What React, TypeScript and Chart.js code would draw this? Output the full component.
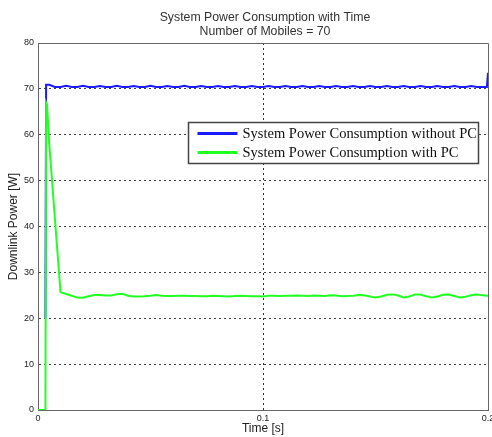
import React, { useEffect, useRef } from 'react';
import { Chart, registerables } from 'chart.js';

Chart.register(...registerables);

const titleLines = ['System Power Consumption with Time', 'Number of Mobiles = 70'];
const xAxisTitle = 'Time [s]';
const yAxisTitle = 'Downlink Power [W]';
const seriesLabels = ['System Power Consumption without PC', 'System Power Consumption with PC'];
const seriesColors = ['#1a1aff', '#22ff22'];
const xTickValues = [0, 0.1, 0.2];
const yTickValues = [0, 10, 20, 30, 40, 50, 60, 70, 80];

const timeValues = [
  0, 0.0033, 0.0036, 0.004,
  0.005, 0.0075, 0.01, 0.0125, 0.015, 0.0175, 0.02, 0.0225, 0.025, 0.0275,
  0.03, 0.0325, 0.035, 0.0375, 0.04, 0.0425, 0.045, 0.0475, 0.05, 0.0525,
  0.055, 0.0575, 0.06, 0.0625, 0.065, 0.0675, 0.07, 0.0725, 0.075, 0.0775,
  0.08, 0.0825, 0.085, 0.0875, 0.09, 0.0925, 0.095, 0.0975, 0.1, 0.1025,
  0.105, 0.1075, 0.11, 0.1125, 0.115, 0.1175, 0.12, 0.1225, 0.125, 0.1275,
  0.13, 0.1325, 0.135, 0.1375, 0.14, 0.1425, 0.145, 0.1475, 0.15, 0.1525,
  0.155, 0.1575, 0.16, 0.1625, 0.165, 0.1675, 0.17, 0.1725, 0.175, 0.1775,
  0.18, 0.1825, 0.185, 0.1875, 0.19, 0.1925, 0.195, 0.1975, 0.1995, 0.2,
];

const powerWithoutPC = [
  null, 20, 70.9, 70.9,
  70.9, 70.4, 70.4, 70.65, 70.4, 70.4, 70.65, 70.4, 70.4, 70.6,
  70.4, 70.4, 70.65, 70.4, 70.4, 70.6, 70.4, 70.4, 70.65, 70.4,
  70.4, 70.6, 70.4, 70.4, 70.65, 70.4, 70.4, 70.6, 70.4, 70.4,
  70.6, 70.4, 70.4, 70.6, 70.4, 70.4, 70.6, 70.4, 70.4, 70.6,
  70.4, 70.4, 70.6, 70.4, 70.4, 70.6, 70.4, 70.4, 70.6, 70.4,
  70.4, 70.6, 70.4, 70.4, 70.6, 70.4, 70.4, 70.6, 70.4, 70.4,
  70.6, 70.4, 70.4, 70.6, 70.4, 70.4, 70.6, 70.4, 70.4, 70.6,
  70.4, 70.4, 70.6, 70.4, 70.4, 70.6, 70.4, 70.4, 70.4, 73.5,
];

const powerWithPC = [
  0, 0, 67, 66.5,
  58.0, 41.8, 25.7, 25.3, 24.9, 24.5, 24.45, 24.8, 25.05, 25.05,
  24.95, 24.95, 25.25, 25.35, 24.9, 24.75, 24.75, 24.8, 24.9, 25.05,
  24.9, 24.85, 24.85, 24.9, 24.9, 24.85, 24.85, 24.8, 24.8, 24.9,
  24.85, 24.8, 24.75, 24.85, 24.9, 24.85, 24.8, 24.8, 24.75, 24.9,
  24.9, 24.85, 24.9, 24.9, 24.95, 24.9, 24.85, 24.95, 24.9, 24.85,
  25.0, 24.95, 24.8, 24.85, 24.9, 25.05, 25.0, 24.75, 24.55, 24.75,
  25.1, 25.2, 24.95, 24.55, 24.75, 25.15, 25.15, 24.8, 24.55, 24.75,
  25.1, 25.15, 24.85, 24.55, 24.7, 25.0, 25.15, 25.0, 24.9, 24.9,
];

const frameLegendPlugin = {
  id: 'frameLegendTitle',
  afterDraw(chart: any) {
    const { ctx, chartArea: a } = chart;
    ctx.save();
    // top and right frame
    ctx.strokeStyle = '#666';
    ctx.lineWidth = 1;
    ctx.setLineDash([]);
    ctx.beginPath();
    ctx.moveTo(Math.round(a.left), Math.round(a.top) + 0.5);
    ctx.lineTo(Math.round(a.right) + 0.5, Math.round(a.top) + 0.5);
    ctx.lineTo(Math.round(a.right) + 0.5, Math.round(a.bottom));
    ctx.stroke();

    // title
    ctx.fillStyle = '#333';
    ctx.font = '12.3px "Liberation Sans", Arial, sans-serif';
    ctx.textAlign = 'center';
    ctx.textBaseline = 'middle';
    const cx = (a.left + a.right) / 2 + 2;
    ctx.fillText(titleLines[0], cx, a.top - 25);
    ctx.fillText(titleLines[1], cx, a.top - 11);

    // legend box
    const bx = Math.round(a.left + 150) + 0.5;
    const by = Math.round(a.top + 79) + 0.5;
    const bw = 290;
    const bh = 41;
    ctx.fillStyle = '#ffffff';
    ctx.fillRect(bx, by, bw, bh);
    ctx.strokeStyle = '#444';
    ctx.lineWidth = 1.5;
    ctx.strokeRect(bx, by, bw, bh);
    ctx.font = '14.5px "Liberation Serif", "Times New Roman", serif';
    ctx.textAlign = 'left';
    ctx.textBaseline = 'middle';
    seriesLabels.forEach((label, i) => {
      const ly = by + 11 + i * 19;
      ctx.strokeStyle = seriesColors[i];
      ctx.lineWidth = 3;
      ctx.beginPath();
      ctx.moveTo(bx + 9, ly);
      ctx.lineTo(bx + 49, ly);
      ctx.stroke();
      ctx.fillStyle = '#111';
      ctx.fillText(label, bx + 54, ly + 0.5);
    });
    ctx.restore();
  },
};

export default function App() {
  const canvasRef = useRef<HTMLCanvasElement | null>(null);

  useEffect(() => {
    document.body.style.margin = '0';
    const canvas = canvasRef.current;
    if (!canvas) return;
    const makeData = (vals: (number | null)[]) => timeValues.map((t, i) => ({ x: t, y: vals[i] }));
    const edgeX = (v: number) => v === xTickValues[0] || v === xTickValues[xTickValues.length - 1];
    const edgeY = (v: number) => v === yTickValues[0] || v === yTickValues[yTickValues.length - 1];

    const chart = new Chart(canvas, {
      type: 'line',
      data: {
        datasets: [
          {
            label: seriesLabels[0],
            data: makeData(powerWithoutPC),
            borderColor: seriesColors[0],
            backgroundColor: seriesColors[0],
            borderWidth: 2,
            pointRadius: 0,
            tension: 0,
            order: 1,
          },
          {
            label: seriesLabels[1],
            data: makeData(powerWithPC),
            borderColor: seriesColors[1],
            backgroundColor: seriesColors[1],
            borderWidth: 2,
            pointRadius: 0,
            tension: 0,
            order: 0,
          },
        ],
      },
      options: {
        responsive: false,
        animation: false,
        devicePixelRatio: 1,
        layout: { padding: { top: 43, right: 4, left: 0, bottom: 0 } },
        plugins: {
          legend: { display: false },
          title: { display: false },
          tooltip: { enabled: false },
        },
        scales: {
          x: {
            type: 'linear',
            min: 0,
            max: 0.2,
            afterBuildTicks: (scale: any) => {
              scale.ticks = xTickValues.map((v) => ({ value: v }));
            },
            afterFit: (scale: any) => {
              scale.height = 27;
              scale.paddingLeft = 0;
              scale.paddingRight = 0;
            },
            ticks: {
              color: '#222',
              font: { family: '"Liberation Sans", Arial, sans-serif', size: 9 },
              padding: 3,
              maxRotation: 0,
              autoSkip: false,
            },
            grid: {
              drawTicks: false,
              color: (ctx: any) => (ctx.tick && edgeX(ctx.tick.value) ? 'rgba(0,0,0,0)' : '#333'),
              lineWidth: 1,
            },
            border: { display: true, color: '#666', width: 1, dash: [2, 3] },
            title: {
              display: true,
              text: xAxisTitle,
              color: '#222',
              font: { family: '"Liberation Sans", Arial, sans-serif', size: 12, lineHeight: 1.2 },
              padding: { top: 0, bottom: 1.5 },
            },
          },
          y: {
            type: 'linear',
            min: 0,
            max: 80,
            afterBuildTicks: (scale: any) => {
              scale.ticks = yTickValues.map((v) => ({ value: v }));
            },
            afterFit: (scale: any) => {
              scale.width = 38;
              scale.paddingTop = 0;
              scale.paddingBottom = 0;
            },
            ticks: {
              color: '#222',
              font: { family: '"Liberation Sans", Arial, sans-serif', size: 9 },
              padding: 4,
              autoSkip: false,
            },
            grid: {
              drawTicks: false,
              color: (ctx: any) => (ctx.tick && edgeY(ctx.tick.value) ? 'rgba(0,0,0,0)' : '#444'),
              lineWidth: 1,
            },
            border: { display: true, color: '#666', width: 1, dash: [2, 3] },
            title: {
              display: true,
              text: yAxisTitle,
              color: '#222',
              font: { family: '"Liberation Sans", Arial, sans-serif', size: 12, lineHeight: 1.2 },
              padding: { top: 6.5, bottom: 0 },
            },
          },
        },
      },
      plugins: [frameLegendPlugin],
    } as any);

    return () => {
      chart.destroy();
    };
  }, []);

  return (
    <div style={{ width: 492, height: 437, position: 'relative', background: '#fff' }}>
      <canvas ref={canvasRef} width={492} height={437} style={{ display: 'block' }} />
    </div>
  );
}
